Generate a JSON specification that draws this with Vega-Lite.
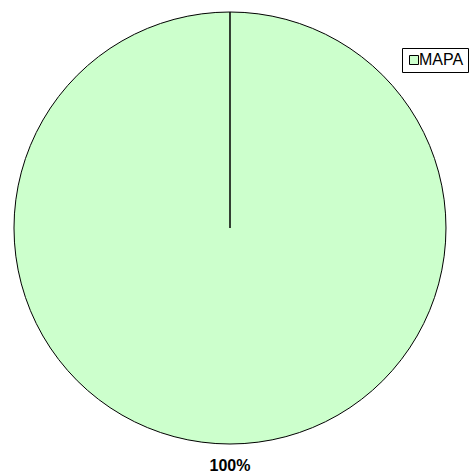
{
  "$schema": "https://vega.github.io/schema/vega-lite/v6.json",
  "width": 460,
  "height": 456,
  "padding": {"left": 0, "top": 0, "right": 10, "bottom": 20},
  "autosize": "none",
  "background": "white",
  "data": {"values": [{"category": "MAPA", "value": 100, "label": "100%"}]},
  "config": {"view": {"stroke": null}},
  "layer": [
    {
      "mark": {"type": "arc", "outerRadius": 216, "stroke": "black", "strokeWidth": 1},
      "encoding": {
        "theta": {"field": "value", "type": "quantitative", "stack": true, "scale": {"range": [0, 6.2831]}},
        "color": {
          "field": "category",
          "type": "nominal",
          "scale": {"range": ["#CCFFCC"]},
          "legend": {
            "title": null,
            "orient": "none",
            "legendX": 402,
            "legendY": 48,
            "strokeColor": "black",
            "padding": 4,
            "symbolType": "square",
            "symbolSize": 81,
            "symbolStrokeColor": "black",
            "symbolStrokeWidth": 1,
            "labelFont": "Liberation Sans",
            "labelFontSize": 16,
            "labelColor": "black",
            "labelOffset": -3
          }
        }
      }
    },
    {
      "mark": {"type": "text", "radius": 237.5, "font": "Liberation Sans", "fontSize": 16, "fontWeight": "bold", "color": "black", "align": "center", "baseline": "middle"},
      "encoding": {
        "theta": {"field": "value", "type": "quantitative", "stack": true, "scale": {"range": [0, 6.2831]}},
        "text": {"field": "label"}
      }
    }
  ]
}
